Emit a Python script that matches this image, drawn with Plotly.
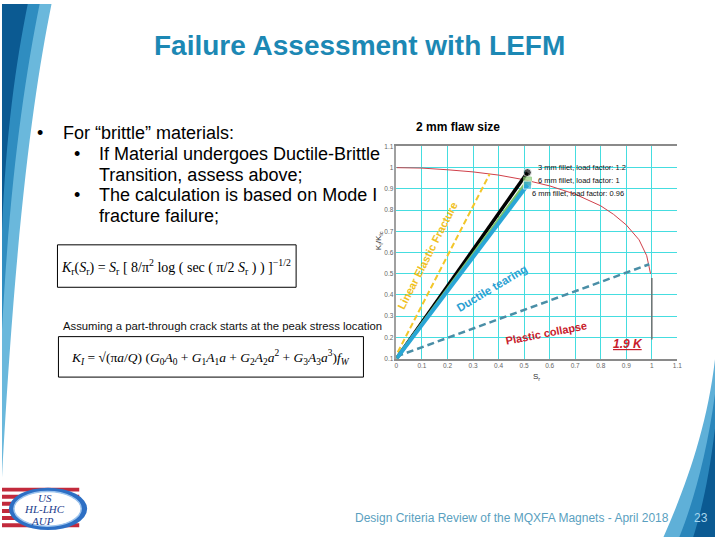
import plotly.graph_objects as go

W, H = 720, 540

# ---------------- data ----------------
fad_sr = [0.0, 0.05, 0.1, 0.2, 0.3, 0.4, 0.5, 0.6, 0.7, 0.8, 0.85, 0.9, 0.95, 0.98, 0.995]
fad_kr = [1.0, 1.0, 0.998, 0.99, 0.98, 0.965, 0.943, 0.914, 0.875, 0.82, 0.78, 0.73, 0.66, 0.585, 0.5]

cutoff_sr = [1.0, 1.0]
cutoff_kr = [0.48, 0.19]

lef_sr = [0.005, 0.365]          # linear elastic fracture (yellow dashed)
lef_kr = [0.13, 0.97]

collapse_sr = [0.0, 0.99]        # plastic collapse path (teal dashed)
collapse_kr = [0.11, 0.545]

black_sr = [0.0, 0.513]          # 3 mm fillet, load factor 1.2
black_kr = [0.1, 0.977]
green_sr = [0.0, 0.513]          # 6 mm fillet, load factor 1
green_kr = [0.1, 0.937]
blue_sr = [0.0, 0.513]           # 6 mm fillet, load factor 0.96
blue_kr = [0.1, 0.918]

x_ticks = [0, 0.1, 0.2, 0.3, 0.4, 0.5, 0.6, 0.7, 0.8, 0.9, 1.0, 1.1]
x_ticktext = ["0", "0.1", "0.2", "0.3", "0.4", "0.5", "0.6", "0.7", "0.8", "0.9", "1", "1.1"]
y_ticks = [0.1, 0.2, 0.3, 0.4, 0.5, 0.6, 0.7, 0.8, 0.9, 1.0, 1.1]
y_ticktext = ["0.1", "0.2", "0.3", "0.4", "0.5", "0.6", "0.7", "0.8", "0.9", "1", "1.1"]

# ---------------- helpers ----------------
def px(x):
    return x / W

def py(y):
    return 1 - y / H

def pt(p):
    return "%.5f,%.5f" % (px(p[0]), py(p[1]))

def swoosh(start, c1, c2, end, extra):
    s = "M " + pt(start) + " C " + pt(c1) + " " + pt(c2) + " " + pt(end)
    for p in extra:
        s += " L " + pt(p)
    return s + " Z"

fig = go.Figure()

fig.add_trace(go.Scatter(x=fad_sr, y=fad_kr, mode="lines",
                         line=dict(color="#d0404a", width=1), hoverinfo="skip"))
fig.add_trace(go.Scatter(x=cutoff_sr, y=cutoff_kr, mode="lines",
                         line=dict(color="#707070", width=1.5), hoverinfo="skip"))
fig.add_trace(go.Scatter(x=lef_sr, y=lef_kr, mode="lines",
                         line=dict(color="#f2c62a", width=2, dash="6px,3px"), hoverinfo="skip"))
fig.add_trace(go.Scatter(x=collapse_sr, y=collapse_kr, mode="lines",
                         line=dict(color="#4a8ea6", width=2.5, dash="7px,4px"), hoverinfo="skip"))
fig.add_trace(go.Scatter(x=black_sr, y=black_kr, mode="lines+markers",
                         line=dict(color="#000000", width=3.5),
                         marker=dict(symbol="circle", size=[0, 8], color="#000000"),
                         hoverinfo="skip"))
fig.add_trace(go.Scatter(x=green_sr, y=green_kr, mode="lines+markers",
                         line=dict(color="#7cc46a", width=3.5),
                         marker=dict(symbol="square", size=[0, 8], color="#8fd07a"),
                         hoverinfo="skip"))
fig.add_trace(go.Scatter(x=blue_sr, y=blue_kr, mode="lines+markers",
                         line=dict(color="#2aa6d6", width=4),
                         marker=dict(symbol="square", size=[0, 8], color="#2aa6d6"),
                         hoverinfo="skip"))

x0p, x1p = 398.3, 682.0
y0p, y1p = 144.3, 359.3

fig.update_layout(
    width=W, height=H,
    margin=dict(l=0, r=0, t=0, b=0),
    paper_bgcolor="white", plot_bgcolor="white",
    showlegend=False,
    xaxis=dict(domain=[px(x0p), px(x1p)], range=[0, 1.1], tickvals=x_ticks, ticktext=x_ticktext,
               showgrid=True, gridcolor="#45dde0", gridwidth=1.3, zeroline=False,
               showline=True, linecolor="#8a8a8a", linewidth=2, mirror=True,
               ticks="", tickfont=dict(size=6.5, color="#666666", family="Liberation Sans"),
               fixedrange=True),
    yaxis=dict(domain=[py(y1p), py(y0p)], range=[0.1, 1.1], tickvals=y_ticks, ticktext=y_ticktext,
               showgrid=True, gridcolor="#45dde0", gridwidth=1.3, zeroline=False,
               showline=True, linecolor="#a0a0a0", linewidth=1.5,
               ticks="", tickfont=dict(size=6.5, color="#666666", family="Liberation Sans"),
               fixedrange=True),
)

ann = []
F = "Liberation Sans, Arial, sans-serif"
ann.append(dict(x=0.12, y=0.585, xref="x", yref="y", text="<b>Linear Elastic Fracture</b>",
                textangle=-63, showarrow=False,
                font=dict(size=11, color="#f0c020", family=F)))
ann.append(dict(x=0.375, y=0.432, xref="x", yref="y", text="<b>Ductile tearing</b>",
                textangle=-31, showarrow=False,
                font=dict(size=11.5, color="#2aa0d2", family=F)))
ann.append(dict(x=0.588, y=0.222, xref="x", yref="y", text="<b>Plastic collapse</b>",
                textangle=-11, showarrow=False,
                font=dict(size=11, color="#c8202c", family=F)))
ann.append(dict(x=0.906, y=0.167, xref="x", yref="y", text="<b><i><u>1.9 K</u></i></b>",
                showarrow=False, font=dict(size=12, color="#c8202c", family=F)))
ann.append(dict(x=0.545, y=0.999, xref="x", yref="y", xanchor="left",
                text="3 mm fillet, load factor: 1.2", showarrow=False,
                font=dict(size=7.5, color="#111111", family=F)))
ann.append(dict(x=0.545, y=0.939, xref="x", yref="y", xanchor="left",
                text="6 mm fillet, load factor: 1", showarrow=False,
                font=dict(size=7.5, color="#111111", family=F)))
ann.append(dict(x=0.522, y=0.878, xref="x", yref="y", xanchor="left",
                text="6 mm fillet, load factor: 0.96", showarrow=False,
                font=dict(size=7.5, color="#111111", family=F)))

def pann(x, y, text, size, color="#000000", xanchor="center", angle=0, family=F):
    ann.append(dict(x=px(x), y=py(y), xref="paper", yref="paper", text=text,
                    xanchor=xanchor, yanchor="middle", showarrow=False, textangle=angle,
                    font=dict(size=size, color=color, family=family)))

pann(460, 125, "<b>2 mm flaw size</b>", 12)
pann(381, 240, "K<sub>I</sub>/K<sub>Ic</sub>", 8, "#333333", angle=-90)
pann(540, 378, "S<sub>r</sub>", 8, "#333333")

# slide title
pann(361, 42, "<b>Failure Assessment with LEFM</b>", 28, "#1c88b4")

# bullets
pann(33, 131, "•", 18, "#000000", xanchor="left")
pann(60, 131, "For “brittle” materials:", 18, "#000000", xanchor="left")
pann(71, 152, "•", 18, "#000000", xanchor="left")
pann(96, 152, "If Material undergoes Ductile-Brittle", 18, "#000000", xanchor="left")
pann(96, 173, "Transition, assess above;", 18, "#000000", xanchor="left")
pann(71, 194, "•", 18, "#000000", xanchor="left")
pann(96, 194, "The calculation is based on Mode I", 18, "#000000", xanchor="left")
pann(96, 215, "fracture failure;", 18, "#000000", xanchor="left")

SERIF = "Liberation Serif, Times New Roman, serif"
eq1 = ("<i>K</i><sub>r</sub>(<i>S</i><sub>r</sub>) = <i>S</i><sub>r</sub> "
       "[ 8/π<sup>2</sup> log ( sec ( π/2 <i>S</i><sub>r</sub> ) ) ]<sup>−1/2</sup>")
pann(176, 266, eq1, 14, "#000000", family=SERIF)
pann(223, 326, "Assuming a part-through crack starts at the peak stress location", 11.3,
     "#111111")
eq2 = ("<i>K<sub>I</sub></i> = √(π<i>a</i>/<i>Q</i>) (<i>G</i><sub>0</sub><i>A</i><sub>0</sub> + "
       "<i>G</i><sub>1</sub><i>A</i><sub>1</sub><i>a</i> + <i>G</i><sub>2</sub><i>A</i><sub>2</sub><i>a</i><sup>2</sup> + "
       "<i>G</i><sub>3</sub><i>A</i><sub>3</sub><i>a</i><sup>3</sup>)<i>f<sub>W</sub></i>")
pann(211, 358, eq2, 13.5, "#000000", family=SERIF)

# footer
pann(515, 521, "Design Criteria Review of the MQXFA Magnets - April 2018", 12, "#5a9fc0")
pann(706, 521, "23", 12, "#a8d6ee")

# logo text
pann(43, 500, "<i>US</i>", 11, "#1a3c8c", family=SERIF)
pann(43, 512, "<i>HL-LHC</i>", 11, "#1a3c8c", family=SERIF)
pann(41, 524, "<i>AUP</i>", 11, "#1a3c8c", family=SERIF)

shapes = []
def pshape(d, fill):
    shapes.append(dict(type="path", xref="paper", yref="paper", path=d,
                       fillcolor=fill, line=dict(width=0), layer="below"))

# left swoosh
pshape(swoosh((50, 0), (32, 90), (14, 220), (0, 480), [(0, 0)]), "#6ab8dc")
pshape(swoosh((38, 0), (22, 80), (8, 180), (0, 330), [(0, 0)]), "#2f8dc0")
pshape(swoosh((26, 0), (14, 60), (4, 130), (0, 230), [(0, 0)]), "#0b5a92")

# bottom right swoosh
pshape(swoosh((720, 360), (712, 430), (690, 490), (668, 540), [(720, 540)]), "#5fb0d8")
pshape(swoosh((720, 395), (712, 455), (698, 505), (684, 540), [(720, 540)]), "#2a86bb")
pshape(swoosh((720, 430), (714, 480), (706, 515), (698, 540), [(720, 540)]), "#0b5a92")

# logo stripes
for i in range(6):
    yt = 490 + i * 7.2
    shapes.append(dict(type="rect", xref="paper", yref="paper",
                       x0=px(0), x1=px(78), y0=py(yt + 4), y1=py(yt),
                       fillcolor="#c22a3c", line=dict(width=0), layer="below"))
shapes.append(dict(type="circle", xref="paper", yref="paper",
                   x0=px(7), x1=px(86), y0=py(533), y1=py(490),
                   fillcolor="#2d6fc4", line=dict(color="#2d6fc4", width=0), layer="below"))
shapes.append(dict(type="circle", xref="paper", yref="paper",
                   x0=px(12), x1=px(80), y0=py(529), y1=py(494),
                   fillcolor="#ffffff", line=dict(color="#9cc4ee", width=1.5), layer="below"))

# equation boxes
shapes.append(dict(type="rect", xref="paper", yref="paper",
                   x0=px(56), x1=px(297), y0=py(287), y1=py(244),
                   line=dict(color="#000000", width=1), fillcolor="rgba(0,0,0,0)"))
shapes.append(dict(type="rect", xref="paper", yref="paper",
                   x0=px(57), x1=px(365), y0=py(378), y1=py(337),
                   line=dict(color="#000000", width=1), fillcolor="rgba(0,0,0,0)"))

fig.update_layout(annotations=ann, shapes=shapes)
fig.write_html("out.html", config={"displayModeBar": False},
               post_script="document.body.style.margin='0px';")
